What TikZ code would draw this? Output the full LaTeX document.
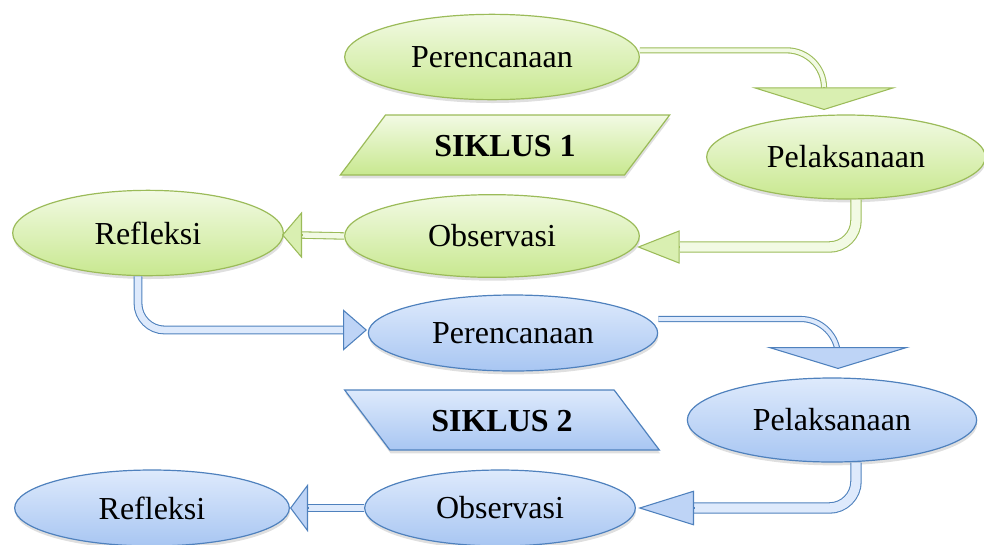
\documentclass[tikz,border=0pt]{standalone}
\usepackage{fontspec}
\setmainfont{Liberation Serif}
\usetikzlibrary{shapes.geometric,arrows.meta,shadows}

\definecolor{gline}{RGB}{155,187,89}
\definecolor{gtop}{RGB}{242,250,228}
\definecolor{gbot}{RGB}{200,232,143}
\definecolor{bline}{RGB}{79,129,189}
\definecolor{btop}{RGB}{222,234,252}
\definecolor{bbot}{RGB}{168,198,242}

\tikzset{
  phase/.style 2 args={ellipse, inner sep=0pt, line width=0.9pt, minimum width=#1, minimum height=#2,
    font=\fontsize{24}{28}\selectfont,
    drop shadow={opacity=0.25, shadow xshift=0.5pt, shadow yshift=-2.5pt}},
  gphase/.style 2 args={phase={#1}{#2}, draw=gline, top color=gtop, bottom color=gbot},
  bphase/.style 2 args={phase={#1}{#2}, draw=bline, top color=btop, bottom color=bbot},
  cycle/.style={trapezium, trapezium stretches body, inner xsep=0pt, inner ysep=14.25pt,
    text height=16.5pt, text depth=0pt, line width=0.9pt,
    minimum width=240pt, font=\fontsize{24}{28}\selectfont\bfseries,
    drop shadow={opacity=0.25, shadow xshift=0.5pt, shadow yshift=-2.5pt}},
  gshaft/.style={draw=gline, line width=0.8pt, double=gtop, double distance=#1},
  bshaft/.style={draw=bline, line width=0.8pt, double=btop, double distance=#1},
  ghead/.style 2 args={draw=gline, line width=0.8pt, -{Triangle[length=#1, width=#2, fill=gtop!40!gbot]}},
  bhead/.style 2 args={draw=bline, line width=0.8pt, -{Triangle[length=#1, width=#2, fill=btop!40!bbot]}}
}

\begin{document}
\begin{tikzpicture}[x=0.75pt,y=-0.75pt]
\useasboundingbox (0,0) rectangle (984,544);

\node [gphase={221pt}{64pt}] (per1) at (492,57) {Perencanaan};
\node [gphase={209pt}{63pt}] (pel1) at (846,157) {Pelaksanaan};
\node [gphase={221pt}{62pt}] (obs1) at (492,236) {Observasi};
\node [gphase={203pt}{64pt}] (ref1) at (148,233) {Refleksi};
\node [cycle, draw=gline, top color=gtop, bottom color=gbot,
  trapezium left angle=53, trapezium right angle=127, minimum width=247pt] (sik1) at (505,145) {SIKLUS 1};

\node [bphase={217pt}{57pt}] (per2) at (513,333) {Perencanaan};
\node [bphase={217pt}{63pt}] (pel2) at (832,420) {Pelaksanaan};
\node [bphase={203pt}{57pt}] (obs2) at (500,508) {Observasi};
\node [bphase={206pt}{57pt}] (ref2) at (152,508) {Refleksi};
\node [cycle, draw=bline, top color=btop, bottom color=bbot,
  trapezium left angle=127, trapezium right angle=53, minimum width=236pt] (sik2) at (502,420) {SIKLUS 2};

\coordinate (b1) at (824,87);
\coordinate (t1) at (824,110);
\coordinate (b2) at (680,247);
\coordinate (t2) at (637,247);
\coordinate (b3) at (302,235);
\coordinate (t3) at (282,235);
\coordinate (b4) at (343,330);
\coordinate (t4) at (367,330);
\coordinate (b5) at (838,347);
\coordinate (t5) at (838,369);
\coordinate (b6) at (694,508);
\coordinate (t6) at (638,508);
\coordinate (b7) at (308,508);
\coordinate (t7) at (290,508);

\draw [gshaft=3pt, rounded corners=28pt] ([yshift=5pt]per1.east) -| (b1);
\draw [ghead={17pt}{109pt}] (b1) -- (t1);
\draw [gshaft=7pt, rounded corners=20pt] ([xshift=7.5pt]pel1.south) |- (b2);
\draw [ghead={32pt}{25pt}] (b2) -- (t2);
\draw [gshaft=4pt] (obs1.west) -- (b3);
\draw [ghead={15pt}{35pt}] (b3) -- (t3);

\draw [bshaft=5pt, rounded corners=20pt] ([xshift=-7.5pt]ref1.south) |- (b4);
\draw [bhead={18pt}{31pt}] (b4) -- (t4);
\draw [bshaft=3pt, rounded corners=28pt] ([yshift=10.5pt]per2.east) -| (b5);
\draw [bhead={16.5pt}{108pt}] (b5) -- (t5);
\draw [bshaft=7pt, rounded corners=20pt] ([xshift=18pt]pel2.south) |- (b6);
\draw [bhead={42pt}{26pt}] (b6) -- (t6);
\draw [bshaft=4pt] (obs2.west) -- (b7);
\draw [bhead={13.5pt}{36pt}] (b7) -- (t7);
\end{tikzpicture}
\end{document}
